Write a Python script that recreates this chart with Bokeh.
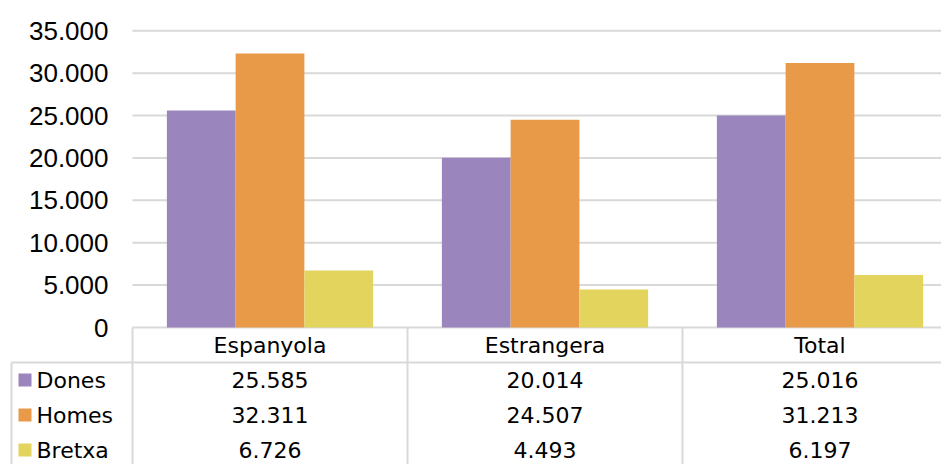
from bokeh.plotting import figure
from bokeh.models import Range1d
from bokeh.core.properties import value
from bokeh.embed import file_html
from bokeh.resources import INLINE

# ---- data ----
categories = ["Espanyola", "Estrangera", "Total"]
series_names = ["Dones", "Homes", "Bretxa"]
dones = [25585, 20014, 25016]
homes = [32311, 24507, 31213]
bretxa = [6726, 4493, 6197]
y_ticks = [0, 5000, 10000, 15000, 20000, 25000, 30000, 35000]
y_tick_labels = ["0", "5.000", "10.000", "15.000", "20.000", "25.000", "30.000", "35.000"]

# ---- styles / layout ----
colors = ["#9b85bd", "#e89a48", "#e2d45c"]
grid_color = "#d9d9d9"
text_color = "#000000"
series_values = [dones, homes, bretxa]

W, H = 941, 464
X0_PX = 132.0        # left edge of the plot area
CAT_PX = 275.0       # width of one category
Y0_PX = 327.0        # pixel row of value 0
K = 296.7 / 35000.0  # pixels per value unit
ROW_PX = 35.0


def px_x(px):
    return (px - X0_PX) / CAT_PX


def row_y(r):
    # r = table row units below the zero line
    return -(r * ROW_PX) / K


n = len(categories)
x_end = n

p = figure(width=W, height=H,
           x_range=Range1d(px_x(0), px_x(W)),
           y_range=Range1d(-(H - Y0_PX) / K, Y0_PX / K),
           x_axis_location=None, y_axis_location=None,
           output_backend="svg", toolbar_location=None,
           min_border_left=0, min_border_right=0,
           min_border_top=0, min_border_bottom=0)
p.outline_line_color = None
p.grid.visible = False
p.background_fill_color = "white"
p.border_fill_color = "white"

# gridlines (value axis)
p.segment(x0=[0] * len(y_ticks), y0=y_ticks, x1=[x_end] * len(y_ticks), y1=y_ticks,
          line_color=grid_color, line_width=2)

# value-axis labels
p.text(x=[px_x(108)] * len(y_ticks), y=y_ticks, text=y_tick_labels,
       text_align="right", text_baseline="middle",
       text_font=value("Liberation Sans"), text_font_size="26px", text_color=text_color)

# bars
bar_w = 0.25
for i, vals in enumerate(series_values):
    xs = [c + 0.5 + (i - 1) * bar_w for c in range(n)]
    p.vbar(x=xs, top=vals, bottom=0, width=bar_w, fill_color=colors[i], line_color=None)

# ---- data table ----
bottom = row_y(5)
left_edge = px_x(11)
p.segment(x0=list(range(n)), y0=[0] * n, x1=list(range(n)), y1=[bottom] * n,
          line_color=grid_color, line_width=2)
p.segment(x0=[left_edge], y0=[row_y(1)], x1=[left_edge], y1=[bottom],
          line_color=grid_color, line_width=2)
p.segment(x0=[left_edge], y0=[row_y(1)], x1=[x_end], y1=[row_y(1)],
          line_color=grid_color, line_width=2)

font = value("DejaVu Sans")
fsize = "22px"
p.text(x=[c + 0.5 for c in range(n)], y=[row_y(0.5)] * n, text=categories,
       text_align="center", text_baseline="middle",
       text_font=font, text_font_size=fsize, text_color=text_color)

rows = [row_y(1.5 + 1.0 * i) for i in range(len(series_names))]
p.scatter(x=[px_x(24.5)] * 3, y=rows, marker="square", size=13,
          fill_color=colors, line_color=None)
p.text(x=[px_x(36)] * 3, y=rows, text=series_names, text_align="left", text_baseline="middle",
       text_font=font, text_font_size=fsize, text_color=text_color)

for i, vals in enumerate(series_values):
    labels = [f"{v:,}".replace(",", ".") for v in vals]
    p.text(x=[c + 0.5 for c in range(n)], y=[rows[i]] * n, text=labels,
           text_align="center", text_baseline="middle",
           text_font=font, text_font_size=fsize, text_color=text_color)

open("out.html", "w").write(file_html(p, INLINE))
